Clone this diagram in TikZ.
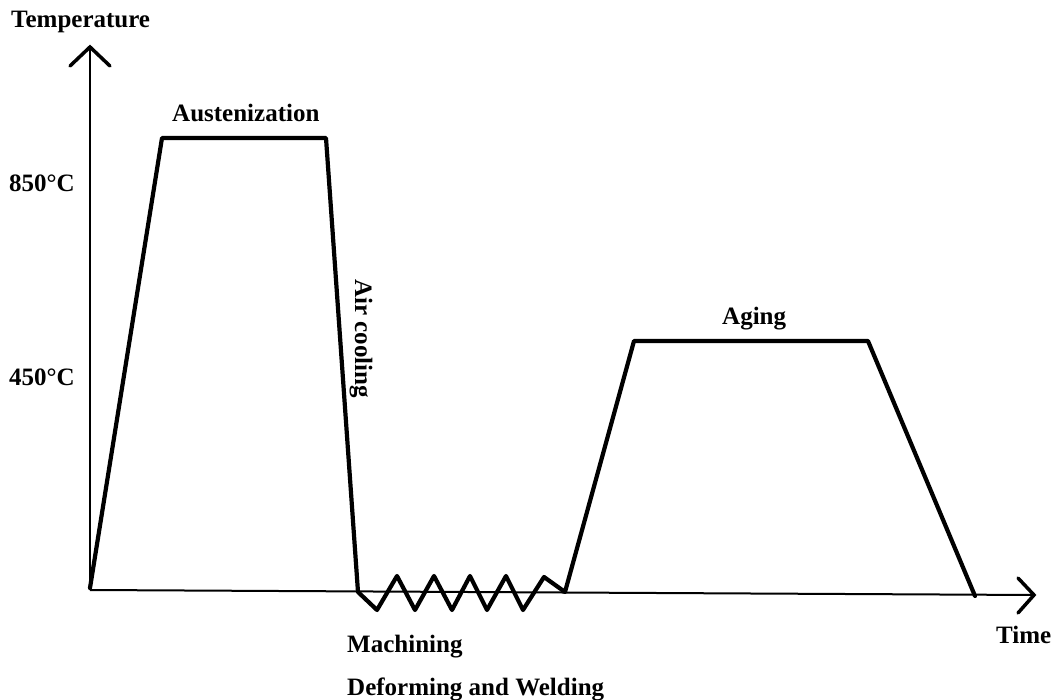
\documentclass[tikz,border=0pt]{standalone}
\usepackage{fontspec}
\setmainfont{Liberation Serif}
\begin{document}
\begin{tikzpicture}[x=1pt,y=-1pt,
  lbl/.style={font=\fontsize{25}{29}\selectfont\bfseries, inner sep=0pt, anchor=base west},
  axisline/.style={line width=2pt},
  tip/.style={line width=3.5pt, line cap=round, line join=miter},
  curve/.style={line width=4.2pt, line join=round, line cap=round}]
\useasboundingbox (0,0) rectangle (1053,700);
% axes
\coordinate (O) at (90,590);
\coordinate (ytip) at (90,47);
\coordinate (xtip) at (1034,595);
\draw[axisline] (O) -- (ytip);
\draw[axisline] (O) -- (xtip);
\draw[tip] (70,66) -- (ytip) -- (110,66);
\draw[tip] (1018,578) -- (xtip) -- (1018,613);
% heat treatment curve
\draw[curve] (90,588) -- (162,138) -- (326,138) -- (358,592)
  -- (377,610) -- (397,576) -- (415,610) -- (434,576) -- (452,610)
  -- (470,576) -- (487,610) -- (506,576) -- (523,610) -- (544,577)
  -- (565,592) -- (634,341) -- (868,341) -- (975,596);
% labels
\node[lbl] (temp) at (11,28) {Temperature};
\node[lbl] (aus) at (172,122) {Austenization};
\node[lbl] (t850) at (9,192) {850°C};
\node[lbl] (t450) at (9,386) {450°C};
\node[lbl, rotate=-90] (air) at (355,279) {Air cooling};
\node[lbl] (aging) at (722,325) {Aging};
\node[lbl] (time) at (996,643) {Time};
\node[lbl] (mach) at (347,652) {Machining};
\node[lbl] (defw) at (347,695) {Deforming and Welding};
\end{tikzpicture}
\end{document}
